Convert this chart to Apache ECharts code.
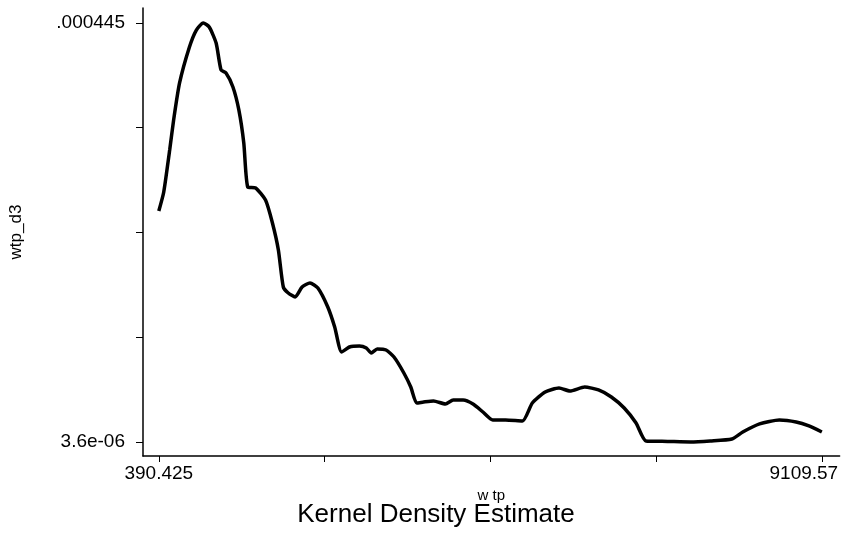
<!DOCTYPE html>
<html>
<head>
<meta charset="utf-8">
<script src="https://cdn.jsdelivr.net/npm/echarts@6/dist/echarts.min.js"></script>
<style>
  html, body { margin: 0; padding: 0; background: #fff; }
  #chart { width: 841px; height: 535px; }
</style>
</head>
<body>
<div id="chart"></div>
<script>
// wtp values (x) and density estimate wtp_d3 (y)
var xVals = [390.4, 455.4, 533.4, 585.3, 663.3, 793.2, 884.2, 975.2, 1053.1, 1144.1,
  1209.0, 1274.0, 1365.0, 1442.9, 1507.9, 1559.9, 1663.8, 1793.8, 1884.7, 1962.7,
  2027.7, 2092.6, 2183.6, 2274.5, 2378.5, 2482.4, 2612.4, 2703.3, 2794.3, 2898.3,
  3028.2, 3119.2, 3184.1, 3262.1, 3379.0, 3483.0, 3612.9, 3703.9, 3781.8, 3872.8,
  4002.7, 4158.7, 4262.6, 4392.6, 4522.5, 4652.5, 4782.4, 4951.3, 5172.2, 5302.1,
  5471.1, 5653.0, 5795.9, 5990.8, 6172.7, 6341.7, 6510.6, 6666.5, 6796.4, 7082.3,
  7381.2, 7641.1, 7927.0, 8069.9, 8290.8, 8550.7, 8771.6, 8940.5, 9109.57];
var yVals = [247.0e-6, 267.0e-6, 311.2e-6, 342.8e-6, 381.8e-6, 419.7e-6, 437.6e-6, 445.0e-6, 440.8e-6, 423.9e-6,
  395.5e-6, 392.3e-6, 377.6e-6, 353.4e-6, 318.6e-6, 272.2e-6, 271.2e-6, 258.5e-6, 234.3e-6, 205.9e-6,
  166.9e-6, 160.6e-6, 156.4e-6, 166.9e-6, 171.1e-6, 165.8e-6, 145.8e-6, 124.8e-6, 98.4e-6, 103.7e-6,
  104.7e-6, 102.6e-6, 97.4e-6, 101.6e-6, 100.5e-6, 93.1e-6, 76.3e-6, 61.5e-6, 44.7e-6, 45.7e-6,
  46.8e-6, 43.6e-6, 47.8e-6, 47.8e-6, 43.6e-6, 35.2e-6, 26.8e-6, 26.8e-6, 25.7e-6, 44.7e-6,
  56.3e-6, 60.5e-6, 57.3e-6, 61.5e-6, 58.4e-6, 51.0e-6, 39.4e-6, 23.6e-6, 4.7e-6, 4.2e-6,
  3.6e-6, 4.7e-6, 6.8e-6, 14.1e-6, 22.6e-6, 26.8e-6, 24.7e-6, 20.5e-6, 14.1e-6];

var xTicks = [390.425, 2570.21, 4750.0, 6929.78, 9109.57];
var xTickLabels = ['390.425', '9109.57'];
var yTicks = [3.6e-6, 113.95e-6, 224.3e-6, 334.65e-6, 445e-6];
var yTickLabels = ['3.6e-06', '.000445'];

var points = xVals.map(function (x, i) { return [x, yVals[i]]; });
var font = 'Liberation Sans, Arial, Helvetica, sans-serif';

var chart = echarts.init(document.getElementById('chart'));
chart.setOption({
  animation: false,
  title: {
    text: 'Kernel Density Estimate',
    left: 431,
    textAlign: 'center',
    top: 497,
    textStyle: { fontFamily: font, fontSize: 26, fontWeight: 'normal', color: '#000' }
  },
  grid: { left: 136, right: 0, top: 8, bottom: 79, containLabel: false },
  xAxis: {
    type: 'value',
    min: 182.5,
    max: 9343.5,
    name: 'w tp',
    nameLocation: 'middle',
    nameGap: 30,
    nameTextStyle: { fontFamily: font, fontSize: 15, color: '#000' },
    splitLine: { show: false },
    axisLine: { show: true, onZero: false, lineStyle: { color: '#000', width: 1.5 } },
    axisTick: { show: true, inside: false, length: 6, customValues: xTicks,
      lineStyle: { color: '#000', width: 1 } },
    axisLabel: {
      customValues: [xTicks[0], xTicks[4]],
      margin: 8,
      fontFamily: font, fontSize: 18, color: '#000',
      formatter: function (v) {
        return v < 1000 ? '{a|' + xTickLabels[0] + '}' : '{b|' + xTickLabels[1] + '}';
      },
      rich: {
        a: { fontFamily: font, fontSize: 19, color: '#000' },
        b: { fontFamily: font, fontSize: 19, color: '#000', padding: [0, 36, 0, 0] }
      }
    }
  },
  yAxis: {
    type: 'value',
    min: -11.15e-6,
    max: 460.8e-6,
    name: 'wtp_d3',
    nameLocation: 'middle',
    nameRotate: 90,
    nameGap: 118,
    nameTextStyle: { fontFamily: font, fontSize: 17, color: '#000' },
    splitLine: { show: false },
    axisLine: { show: true, onZero: false, lineStyle: { color: '#000', width: 1.5 } },
    axisTick: { show: true, inside: false, length: 7, customValues: yTicks,
      lineStyle: { color: '#000', width: 1 } },
    axisLabel: {
      customValues: [yTicks[0], yTicks[4]],
      margin: 18,
      fontFamily: font, fontSize: 19, color: '#000',
      formatter: function (v) {
        return v < 1e-4 ? yTickLabels[0] : yTickLabels[1];
      }
    }
  },
  series: [{
    type: 'line',
    data: points,
    showSymbol: false,
    smooth: 0.2,
    lineStyle: { color: '#000', width: 3.5 }
  }]
});
</script>
</body>
</html>
